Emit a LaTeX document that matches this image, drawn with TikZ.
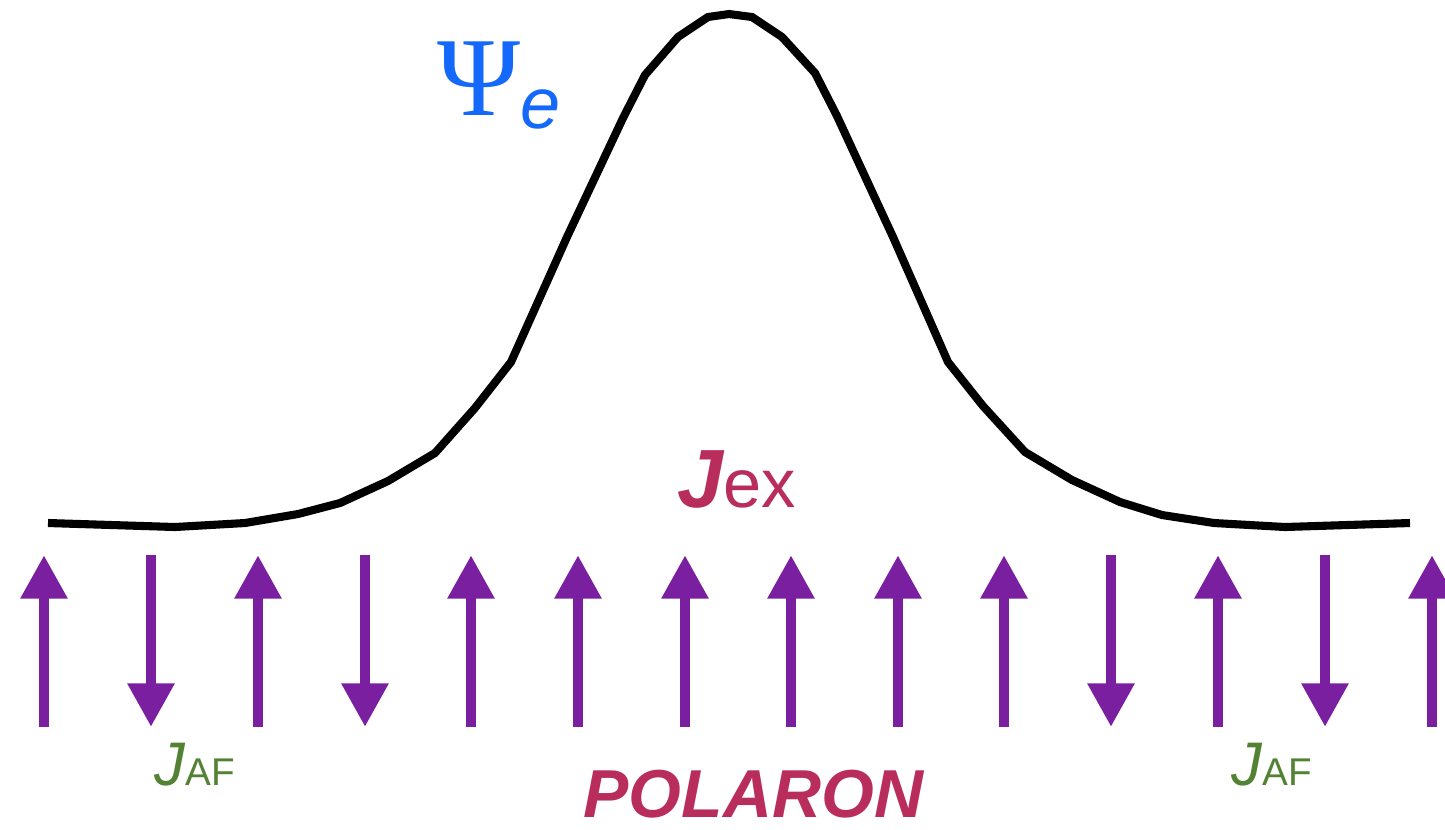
\documentclass[tikz,border=0pt]{standalone}
\usepackage{fontspec}
\setmainfont{Liberation Sans}
\newfontfamily\psifont{Liberation Serif}
\usetikzlibrary{arrows.meta}
\definecolor{psiblue}{RGB}{20,105,250}
\definecolor{polred}{RGB}{185,45,93}
\definecolor{afgreen}{RGB}{84,130,53}
\definecolor{spinpurple}{RGB}{122,31,160}
\tikzset{
  wave/.style={line width=2.3pt, line join=miter, black},
  spin/.style={line width=3.1pt, spinpurple, -{Triangle[length=12.4pt,width=12.6pt]}},
  lbl/.style={inner sep=0pt, anchor=base west},
}
\begin{document}
\begin{tikzpicture}[x=0.01cm,y=-0.01cm]
\clip (0,0) rectangle (1445,829);
\useasboundingbox (0,0) rectangle (1445,829);
% wavefunction
\draw[wave] (48,523) -- (175,527) -- (245,523) -- (298,514) -- (340,503) -- (388,481) -- (435,453) -- (475,408) -- (511,362) -- (567,237) -- (623,118) -- (645,75) -- (678,37) -- (708,17) -- (729,14) -- (752,17) -- (782,37) -- (815,73) -- (837,116) -- (893,237) -- (948,362) -- (983,406) -- (1025,452) -- (1072,480) -- (1120,502) -- (1162,515) -- (1214,523) -- (1285,527) -- (1410,523);
% spins
\foreach \x/\d in {44/u,151/d,258/u,365/d,471/u,578/u,685/u,791/u,898/u,1004/u,1111/d,1218/u,1325/d,1432/u}{
  \coordinate (lo\x) at (\x,727);
  \coordinate (hi\x) at (\x,555);
  \if\d u
    \draw[spin] (lo\x) -- (hi\x);
  \else
    \draw[spin] (hi\x) -- (lo\x);
  \fi
}
% labels
\node[lbl, text=psiblue] (psi) at (437,115) {{\psifont\fontsize{32}{32}\selectfont Ψ}\raisebox{-0.13cm}{\fontsize{20.5}{21}\selectfont\itshape e}};
\node[lbl, text=polred] (jex) at (677,507) {{\fontsize{23.5}{24}\selectfont\bfseries\itshape J}{\fontsize{19.5}{20}\selectfont ex}};
\node[lbl, text=afgreen] (jaf1) at (154,785) {{\fontsize{17.5}{18}\selectfont\itshape J}{\fontsize{11}{12}\selectfont AF}};
\node[lbl, text=afgreen] (jaf2) at (1231,785) {{\fontsize{17.5}{18}\selectfont\itshape J}{\fontsize{11}{12}\selectfont AF}};
\node[lbl, text=polred] (pol) at (583,817) {\fontsize{19.3}{20}\selectfont\bfseries\itshape POLARON};
\end{tikzpicture}
\end{document}
